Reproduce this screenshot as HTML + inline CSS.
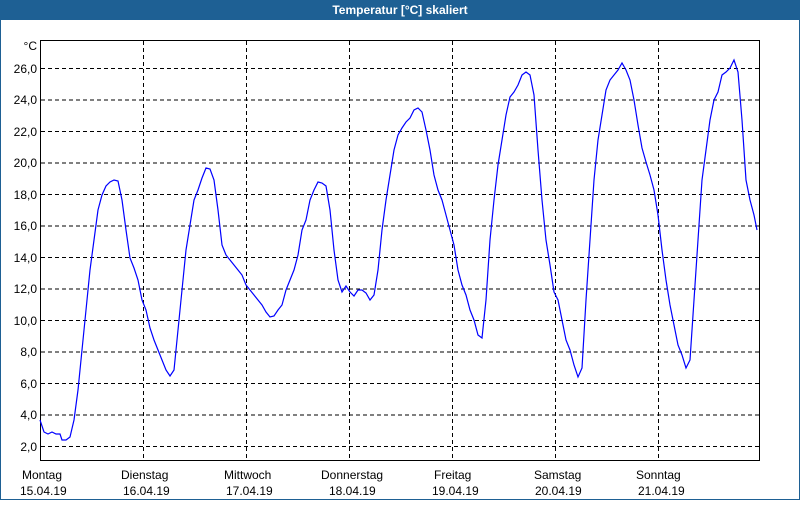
<!DOCTYPE html>
<html><head><meta charset="utf-8"><style>
body{margin:0;width:800px;height:500px;overflow:hidden;background:#fff;font-family:"Liberation Sans",sans-serif}
</style></head><body>
<svg width="800" height="500" xmlns="http://www.w3.org/2000/svg" font-family="Liberation Sans, sans-serif" font-size="12">
<rect x="0" y="0" width="800" height="500" fill="#fff"/>
<rect x="0" y="0" width="800" height="20" fill="#1e6094"/>
<rect x="0" y="20" width="1" height="480" fill="#1e6094"/>
<rect x="799" y="20" width="1" height="480" fill="#1e6094"/>
<rect x="0" y="499" width="800" height="1" fill="#1e6094"/>
<text x="400" y="14" text-anchor="middle" fill="#fff" font-weight="bold" font-size="12">Temperatur [°C] skaliert</text>
<g stroke="#000" stroke-dasharray="4,3" stroke-width="1">
<line x1="41" x2="759" y1="68.5" y2="68.5"/><line x1="41" x2="759" y1="100" y2="100"/>
<line x1="41" x2="759" y1="131.5" y2="131.5"/><line x1="41" x2="759" y1="163" y2="163"/>
<line x1="41" x2="759" y1="194.5" y2="194.5"/><line x1="41" x2="759" y1="226" y2="226"/>
<line x1="41" x2="759" y1="257.5" y2="257.5"/><line x1="41" x2="759" y1="289" y2="289"/>
<line x1="41" x2="759" y1="320.5" y2="320.5"/><line x1="41" x2="759" y1="352" y2="352"/>
<line x1="41" x2="759" y1="383.5" y2="383.5"/><line x1="41" x2="759" y1="415" y2="415"/>
<line x1="41" x2="759" y1="446.5" y2="446.5"/>
<line x1="143.5" x2="143.5" y1="41" y2="460"/><line x1="246.5" x2="246.5" y1="41" y2="460"/>
<line x1="349.5" x2="349.5" y1="41" y2="460"/><line x1="452.5" x2="452.5" y1="41" y2="460"/>
<line x1="555.5" x2="555.5" y1="41" y2="460"/><line x1="658.5" x2="658.5" y1="41" y2="460"/>
</g>
<rect x="40.5" y="40.5" width="719" height="420" fill="none" stroke="#000"/>
<g text-anchor="end" fill="#000">
<text x="37" y="50">°C</text>
<text x="37" y="73">26,0</text><text x="37" y="104">24,0</text><text x="37" y="136">22,0</text>
<text x="37" y="167">20,0</text><text x="37" y="199">18,0</text><text x="37" y="230">16,0</text>
<text x="37" y="262">14,0</text><text x="37" y="293">12,0</text><text x="37" y="325">10,0</text>
<text x="37" y="356">8,0</text><text x="37" y="388">6,0</text><text x="37" y="419">4,0</text>
<text x="37" y="451">2,0</text>
</g>
<g fill="#000">
<text x="22" y="479">Montag</text><text x="20" y="495">15.04.19</text>
<text x="121" y="479">Dienstag</text><text x="123" y="495">16.04.19</text>
<text x="224" y="479">Mittwoch</text><text x="226" y="495">17.04.19</text>
<text x="321" y="479">Donnerstag</text><text x="329" y="495">18.04.19</text>
<text x="434" y="479">Freitag</text><text x="432" y="495">19.04.19</text>
<text x="534" y="479">Samstag</text><text x="535" y="495">20.04.19</text>
<text x="636" y="479">Sonntag</text><text x="638" y="495">21.04.19</text>
</g>
<polyline fill="none" stroke="#0000ff" stroke-width="1.2" points="40,420 44,432 48,434 52,432 56,434 60,434 62,440 66,440 70,437 74,420 78,390 82,350 86,310 90,270 94,240 98,210 102,195 106,186 110,182 114,180 118,181 122,200 126,230 130,258 134,268 138,280 142,300 146,310 150,328 154,340 158,350 162,360 166,370 170,376 174,370 178,330 182,290 186,250 190,225 194,200 198,190 202,178 206,168 210,169 214,180 218,210 222,245 226,255 230,260 234,265 238,270 242,275 246,285 250,290 254,295 258,300 262,305 266,312 270,317 274,316 278,310 282,305 286,290 290,280 294,270 298,255 302,230 306,220 310,200 314,190 318,182 322,183 326,186 330,210 334,250 338,280 342,292 346,286 350,292 354,296 358,290 362,290 366,293 370,300 374,295 378,270 382,230 386,200 390,175 394,150 398,135 402,128 406,122 410,118 414,110 418,108 422,112 426,130 430,150 434,175 438,190 442,200 446,215 450,230 454,245 458,270 462,285 466,295 470,310 474,320 478,335 482,338 486,300 490,240 494,200 498,165 502,140 506,115 510,97 514,92 518,85 522,75 526,72 530,75 534,95 538,150 542,200 546,240 550,265 554,292 558,300 562,320 566,340 570,350 574,365 578,377 582,368 586,300 590,240 594,180 598,140 602,115 606,90 610,80 614,75 618,70 622,63 626,70 630,80 634,100 638,125 642,148 646,162 650,175 654,190 658,215 662,250 666,280 670,305 674,325 678,345 682,355 686,368 690,360 694,300 698,240 702,180 706,150 710,120 714,100 718,92 722,75 726,72 730,68 734,60 738,72 742,120 746,180 750,200 754,215 757,230"/>
</svg>
</body></html>
